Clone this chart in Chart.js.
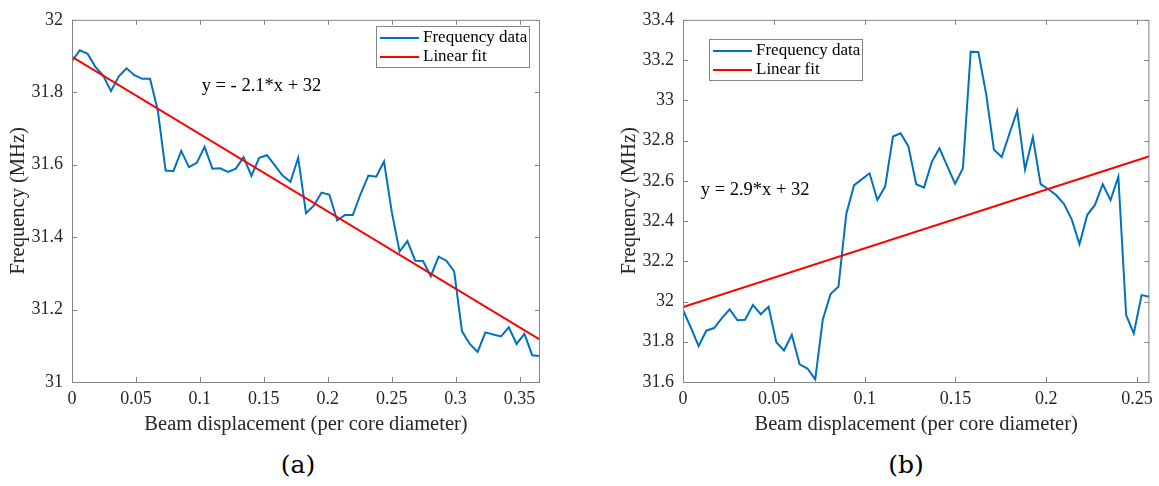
<!DOCTYPE html>
<html>
<head>
<meta charset="utf-8">
<script src="https://cdn.jsdelivr.net/npm/chart.js@4.4.1/dist/chart.umd.min.js"></script>
<style>
  body { margin: 0; background: #fff; width: 1159px; height: 486px; position: relative; overflow: hidden; font-family: 'Liberation Serif', 'Times New Roman', serif; }
  .wrap { position: absolute; top: 0; height: 440px; }
  #wa { left: 0; width: 560px; }
  #wb { left: 611px; width: 548px; }
  .cap { position: absolute; top: 450px; font-size: 25px; color: #000; transform: translateX(-50%); font-family: 'DejaVu Serif', serif; font-weight: 300; }
</style>
</head>
<body>
<div class="wrap" id="wa"><canvas id="chartA"></canvas></div>
<div class="wrap" id="wb"><canvas id="chartB"></canvas></div>
<div class="cap" style="left:298px">(a)</div>
<div class="cap" style="left:906px">(b)</div>
<script>
// ---- panel (a) ----
const aX = [0, 0.0061, 0.0122, 0.0183, 0.0244, 0.0305, 0.0366, 0.0427, 0.0488, 0.0549,
  0.061, 0.0671, 0.0732, 0.0793, 0.0854, 0.0915, 0.0976, 0.1037, 0.1098, 0.1159,
  0.122, 0.1281, 0.1342, 0.1403, 0.1464, 0.1525, 0.1586, 0.1647, 0.1708, 0.1769,
  0.183, 0.1891, 0.1952, 0.2013, 0.2074, 0.2135, 0.2196, 0.2257, 0.2318, 0.2379,
  0.244, 0.2501, 0.2562, 0.2623, 0.2684, 0.2745, 0.2806, 0.2867, 0.2928, 0.2989,
  0.305, 0.3111, 0.3172, 0.3233, 0.3294, 0.3355, 0.3416, 0.3477, 0.3538, 0.3599, 0.366];
const aFreq = [31.886, 31.916, 31.906, 31.870, 31.846, 31.803, 31.844, 31.866, 31.847, 31.837,
  31.837, 31.750, 31.584, 31.582, 31.638, 31.593, 31.605, 31.649, 31.589, 31.590,
  31.580, 31.589, 31.621, 31.569, 31.619, 31.626, 31.598, 31.570, 31.553, 31.619,
  31.466, 31.487, 31.523, 31.517, 31.446, 31.461, 31.461, 31.519, 31.570, 31.567,
  31.609, 31.469, 31.360, 31.389, 31.335, 31.334, 31.292, 31.346, 31.335, 31.305,
  31.140, 31.105, 31.083, 31.137, 31.131, 31.126, 31.151, 31.105, 31.133, 31.074, 31.072];
const aFitX = [0, 0.366];
const aFitY = [31.898, 31.117];
const aXTicks = [0, 0.05, 0.1, 0.15, 0.2, 0.25, 0.3, 0.35];
const aXLabels = ['0', '0.05', '0.1', '0.15', '0.2', '0.25', '0.3', '0.35'];
const aYTicks = [31, 31.2, 31.4, 31.6, 31.8, 32];
const aYLabels = ['31', '31.2', '31.4', '31.6', '31.8', '32'];

// ---- panel (b) ----
const bX = [0, 0.0043, 0.0086, 0.0128, 0.0171, 0.0214, 0.0257, 0.03, 0.0342, 0.0385,
  0.0428, 0.0471, 0.0514, 0.0556, 0.0599, 0.0642, 0.0685, 0.0728, 0.077, 0.0813,
  0.0856, 0.0899, 0.0942, 0.0984, 0.1027, 0.107, 0.1113, 0.1156, 0.1198, 0.1241,
  0.1284, 0.1327, 0.137, 0.1412, 0.1455, 0.1498, 0.1541, 0.1584, 0.1626, 0.1669,
  0.1712, 0.1755, 0.1798, 0.184, 0.1883, 0.1926, 0.1969, 0.2012, 0.2054, 0.2097,
  0.214, 0.2183, 0.2226, 0.2268, 0.2311, 0.2354, 0.2397, 0.244, 0.2482, 0.2525, 0.2568];
const bFreq = [31.958, 31.871, 31.778, 31.855, 31.868, 31.917, 31.961, 31.907, 31.909, 31.983,
  31.937, 31.974, 31.798, 31.757, 31.835, 31.688, 31.667, 31.613, 31.912, 32.038,
  32.073, 32.435, 32.578, 32.607, 32.637, 32.504, 32.571, 32.820, 32.836, 32.771,
  32.583, 32.566, 32.694, 32.762, 32.673, 32.586, 32.661, 33.241, 33.240, 33.032,
  32.754, 32.718, 32.836, 32.947, 32.656, 32.816, 32.583, 32.558, 32.529, 32.485,
  32.408, 32.285, 32.431, 32.480, 32.583, 32.504, 32.620, 31.932, 31.842, 32.032, 32.024];
const bFitX = [0, 0.2568];
const bFitY = [31.973, 32.722];
const bXTicks = [0, 0.05, 0.1, 0.15, 0.2, 0.25];
const bXLabels = ['0', '0.05', '0.1', '0.15', '0.2', '0.25'];
const bYTicks = [31.6, 31.8, 32, 32.2, 32.4, 32.6, 32.8, 33, 33.2, 33.4];
const bYLabels = ['31.6', '31.8', '32', '32.2', '32.4', '32.6', '32.8', '33', '33.2', '33.4'];

const colors = {
  data: '#0072BD',
  fit: '#FF0000',
  text: '#262626',
  box: '#858585'
};
const serif = "'Liberation Serif', 'Times New Roman', serif";

// MATLAB-like box, inward ticks, legend and the fit equation
const matlabAxes = {
  id: 'matlabAxes',
  afterDatasetsDraw(chart, args, opts) {
    const { ctx, chartArea: a, scales: { x, y } } = chart;
    ctx.save();

    ctx.strokeStyle = colors.box;
    ctx.lineWidth = 1;
    ctx.beginPath();
    ctx.rect(a.left + 0.5, a.top + 0.5, a.right - a.left - 1, a.bottom - a.top);
    x.ticks.forEach(t => {
      const px = Math.round(x.getPixelForValue(t.value)) + 0.5;
      ctx.moveTo(px, a.bottom); ctx.lineTo(px, a.bottom - 5);
      ctx.moveTo(px, a.top); ctx.lineTo(px, a.top + 5);
    });
    y.ticks.forEach(t => {
      const py = Math.round(y.getPixelForValue(t.value)) + 0.5;
      ctx.moveTo(a.left, py); ctx.lineTo(a.left + 5, py);
      ctx.moveTo(a.right, py); ctx.lineTo(a.right - 5, py);
    });
    ctx.stroke();

    // equation
    ctx.fillStyle = '#000';
    ctx.font = '18.5px ' + serif;
    ctx.textAlign = 'left';
    ctx.textBaseline = 'middle';
    ctx.fillText(opts.equation, x.getPixelForValue(opts.eqX), y.getPixelForValue(opts.eqY));

    // legend
    const L = opts.legend;
    ctx.fillStyle = '#fff';
    ctx.fillRect(L.x, L.y, L.w, L.h);
    ctx.strokeStyle = colors.box;
    ctx.strokeRect(L.x + 0.5, L.y + 0.5, L.w, L.h);
    ctx.font = '17px ' + serif;
    ctx.fillStyle = '#000';
    chart.data.datasets.forEach((ds, i) => {
      const ry = L.y + 12 + i * 19;
      ctx.strokeStyle = ds.borderColor;
      ctx.lineWidth = 2;
      ctx.beginPath();
      ctx.moveTo(L.x + 4, ry); ctx.lineTo(L.x + 43, ry);
      ctx.stroke();
      ctx.fillText(ds.label, L.x + 47, ry);
    });
    ctx.restore();
  }
};

const makeChart = (id, xs, ys, fitX, fitY, xTicks, xLabels, yTicks, yLabels, xMax, extra, rightPad) => {
  const ctx = document.getElementById(id).getContext('2d');
  return new Chart(ctx, {
    type: 'scatter',
    data: {
      datasets: [{
        label: 'Frequency data',
        data: xs.map((v, i) => ({ x: v, y: ys[i] })),
        showLine: true,
        borderColor: colors.data,
        borderWidth: 2,
        pointRadius: 0,
        tension: 0,
        order: 1
      }, {
        label: 'Linear fit',
        data: fitX.map((v, i) => ({ x: v, y: fitY[i] })),
        showLine: true,
        borderColor: colors.fit,
        borderWidth: 2,
        pointRadius: 0,
        tension: 0,
        order: 0
      }]
    },
    options: {
      responsive: true,
      maintainAspectRatio: false,
      animation: false,
      devicePixelRatio: 1,
      layout: { padding: { top: 15, right: rightPad, bottom: 0, left: 0 } },
      scales: {
        x: {
          type: 'linear',
          min: 0,
          max: xMax,
          afterBuildTicks: s => { s.ticks = xTicks.map(v => ({ value: v })); },
          afterFit: s => { s.height = 58; },
          grid: { display: false, drawTicks: false },
          border: { display: false },
          ticks: {
            color: colors.text,
            font: { family: serif, size: 18 },
            padding: 6,
            maxRotation: 0,
            autoSkip: false,
            callback: (v) => xLabels[xTicks.indexOf(v)]
          },
          title: {
            display: true,
            text: 'Beam displacement (per core diameter)',
            color: colors.text,
            font: { family: serif, size: 20.5 },
            padding: { top: 2, bottom: 3 }
          }
        },
        y: {
          min: yTicks[0],
          max: yTicks[yTicks.length - 1],
          afterBuildTicks: s => { s.ticks = yTicks.map(v => ({ value: v })); },
          afterFit: s => { s.width = 72; },
          grid: { display: false, drawTicks: false },
          border: { display: false },
          ticks: {
            color: colors.text,
            font: { family: serif, size: 18 },
            padding: 9,
            autoSkip: false,
            callback: (v) => yLabels[yTicks.indexOf(v)]
          },
          title: {
            display: true,
            text: 'Frequency (MHz)',
            color: colors.text,
            font: { family: serif, size: 20.5 },
            padding: { top: 6, bottom: 0 }
          }
        }
      },
      plugins: {
        legend: { display: false },
        tooltip: { enabled: false },
        matlabAxes: extra
      }
    },
    plugins: [matlabAxes]
  });
};

makeChart('chartA', aX, aFreq, aFitX, aFitY, aXTicks, aXLabels, aYTicks, aYLabels, 0.366, {
  equation: 'y = - 2.1*x + 32', eqX: 0.1014, eqY: 31.817,
  legend: { x: 376, y: 26, w: 153, h: 41 }
}, 20);

makeChart('chartB', bX, bFreq, bFitX, bFitY, bXTicks, bXLabels, bYTicks, bYLabels, 0.2568, {
  equation: 'y = 2.9*x + 32', eqX: 0.0098, eqY: 32.552,
  legend: { x: 98, y: 39, w: 153, h: 41 }
}, 7);
</script>
</body>
</html>
